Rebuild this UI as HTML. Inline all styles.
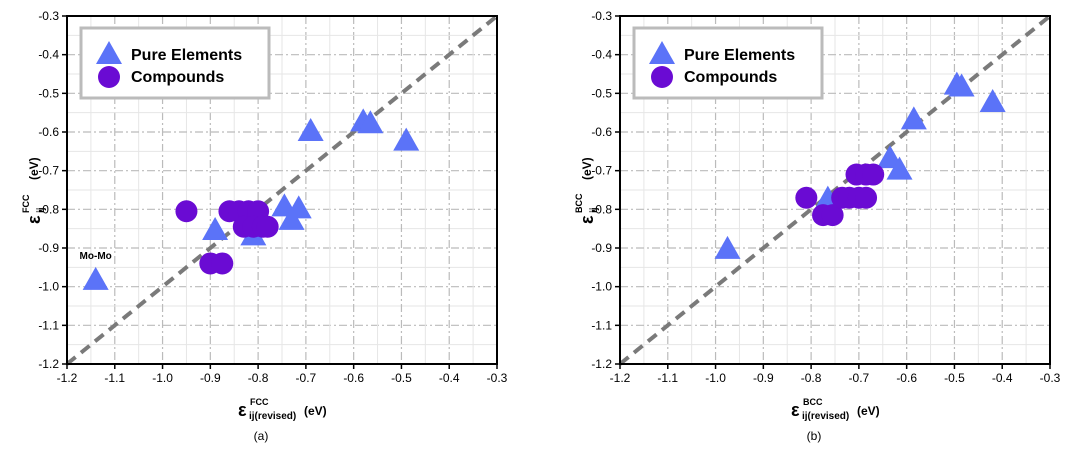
<!DOCTYPE html>
<html><head><meta charset="utf-8"><style>
body{margin:0;background:#fff;width:1080px;height:455px;overflow:hidden;font-family:"Liberation Sans",Arial,sans-serif}
svg text{font-family:"Liberation Sans",Arial,sans-serif}
</style></head><body>
<svg id="s" width="1080" height="455"></svg>
<script>
const xTicks=[-1.2,-1.1,-1.0,-0.9,-0.8,-0.7,-0.6,-0.5,-0.4,-0.3];
const yTicks=[-0.3,-0.4,-0.5,-0.6,-0.7,-0.8,-0.9,-1.0,-1.1,-1.2];
const aTriX=[-1.14,-0.89,-0.81,-0.745,-0.715,-0.73,-0.69,-0.58,-0.565,-0.49];
const aTriY=[-0.985,-0.856,-0.87,-0.795,-0.80,-0.83,-0.60,-0.575,-0.58,-0.625];
const aCirX=[-0.95,-0.86,-0.84,-0.82,-0.80,-0.83,-0.81,-0.79,-0.78,-0.90,-0.875];
const aCirY=[-0.805,-0.805,-0.805,-0.805,-0.805,-0.845,-0.845,-0.845,-0.845,-0.94,-0.94];
const bTriX=[-0.975,-0.765,-0.635,-0.615,-0.585,-0.495,-0.485,-0.42];
const bTriY=[-0.905,-0.775,-0.67,-0.70,-0.57,-0.48,-0.485,-0.525];
const bCirX=[-0.81,-0.775,-0.755,-0.735,-0.72,-0.70,-0.685,-0.705,-0.685,-0.67];
const bCirY=[-0.77,-0.815,-0.815,-0.77,-0.77,-0.77,-0.77,-0.71,-0.71,-0.71];
const NS="http://www.w3.org/2000/svg",S=document.getElementById('s');
function el(t,a,p){const e=document.createElementNS(NS,t);for(const k in a)e.setAttribute(k,a[k]);(p||S).appendChild(e);return e;}
function txt(p,x,y,s,fs,bold,anchor){const t=el('text',{x:x,y:y,'font-size':fs,'font-weight':bold?'bold':'normal','text-anchor':anchor||'start'},p);t.textContent=s;return t;}
function panel(x0,tx,ty,cx,cy,sup,lab,momo){
 const g=el('g',{});
 
 
 const W=430,y0=16,H=348;
 const X=v=>x0+(v+1.2)/0.9*W, Y=v=>y0+(-0.3-v)/0.9*H;
 for(let i=0;i<18;i++){const v=-1.2+i*0.05,major=i%2==0;
  el('line',{x1:X(v),x2:X(v),y1:y0,y2:y0+H,stroke:major?'#bbb':'#e6e6e6','stroke-width':major?1.2:1,'stroke-dasharray':major?'8,3,2,3':'none'},g);
  el('line',{y1:Y(v),y2:Y(v),x1:x0,x2:x0+W,stroke:major?'#bbb':'#e6e6e6','stroke-width':major?1.2:1,'stroke-dasharray':major?'8,3,2,3':'none'},g);}
 el('line',{x1:X(-1.2),y1:Y(-1.2),x2:X(-0.3),y2:Y(-0.3),stroke:'#7a7a7a','stroke-width':4,'stroke-dasharray':'11,7'},g);
 el('rect',{x:x0,y:y0,width:W,height:H,fill:'none',stroke:'#000','stroke-width':2},g);
 xTicks.forEach(v=>{el('line',{x1:X(v),x2:X(v),y1:y0+H,y2:y0+H+5,stroke:'#000','stroke-width':1.5},g);
  const t=txt(g,X(v),y0+H+18,v.toFixed(1),12,false,'middle');
  });
 yTicks.forEach(v=>{el('line',{x1:x0-5,x2:x0,y1:Y(v),y2:Y(v),stroke:'#000','stroke-width':1.5},g);
  const t=txt(g,x0-8,Y(v)+4,v.toFixed(1),12,false,'end');
  });
 const tri=(x,y,p)=>{const c=X(x),d=Y(y);return el('polygon',{points:`${c},${d-14} ${c-13},${d+9} ${c+13},${d+9}`,fill:'#5b73f8'},p);};
 tx.forEach((v,i)=>{const e=tri(v,ty[i],g);});
 cx.forEach((v,i)=>{const e=el('circle',{cx:X(v),cy:Y(cy[i]),r:11,fill:'#6a0bd3'},g);});
 if(momo){const t=txt(g,X(-1.14),Y(-0.985)-22,'Mo-Mo',10,true,'middle');
  }
 const lg=el('g',{},g);
 el('rect',{x:x0+14,y:28,width:188,height:70,fill:'#fff',stroke:'#bbb','stroke-width':3},lg);
 el('polygon',{points:`${x0+42},${41} ${x0+29},${64} ${x0+55},${64}`,fill:'#5b73f8'},lg);
 el('circle',{cx:x0+42,cy:77,r:11,fill:'#6a0bd3'},lg);
 txt(lg,x0+64,60,'Pure Elements',16,true);
 txt(lg,x0+64,82,'Compounds',16,true);
 const xt=el('g',{},g);
 const bx=x0+171;
 txt(xt,bx,416,'ε',18,true);
 txt(xt,bx+12,405,sup,9,true);
 txt(xt,bx+11,419,'ij(revised)',10,true);
 txt(xt,bx+66,415,'(eV)',12,true);
 const yt=el('g',{transform:`translate(${x0-27},${y0+H/2+34}) rotate(-90)`},g);
 
 txt(yt,0,0,'ε',18,true);
 txt(yt,11,-11,sup,9,true);
 txt(yt,11,4,'ij',10,true);
 txt(yt,44,-2,'(eV)',12,true);
 const t=txt(g,x0+W/2-21,440,'('+lab+')',12,false,'middle');
 
}
panel(67,aTriX,aTriY,aCirX,aCirY,'FCC','a',true);
panel(620,bTriX,bTriY,bCirX,bCirY,'BCC','b',false);
</script>
</body></html>
